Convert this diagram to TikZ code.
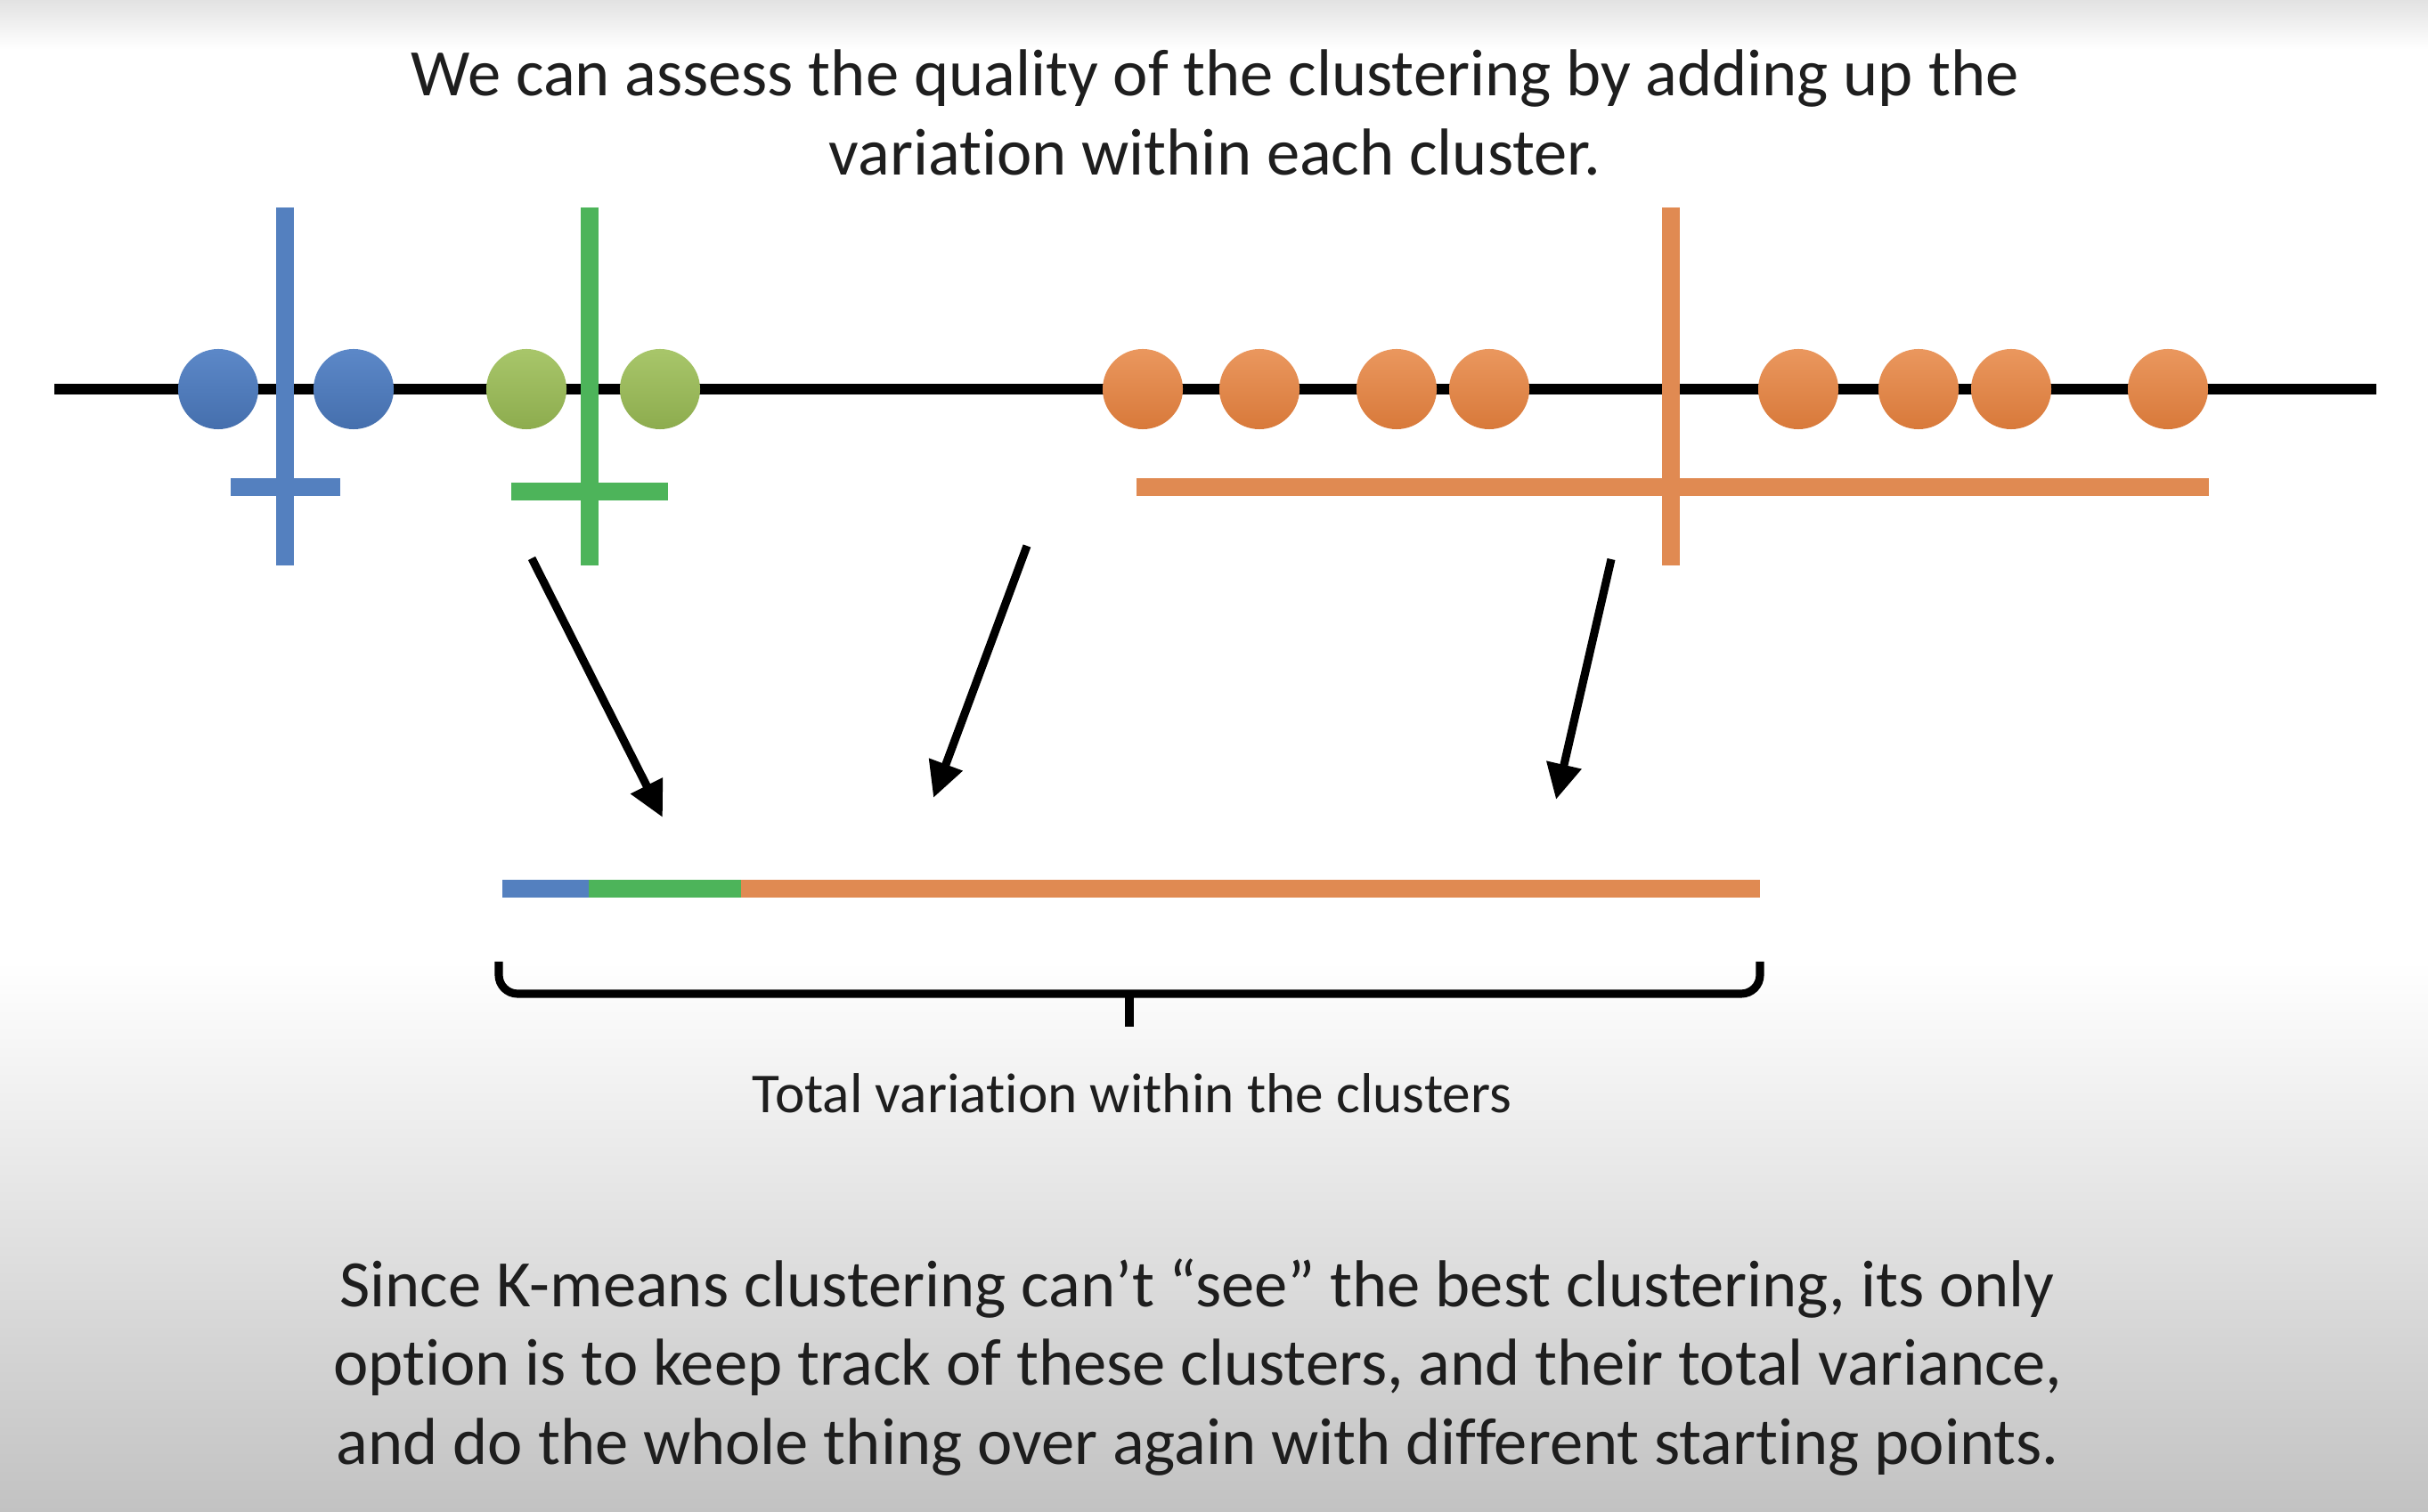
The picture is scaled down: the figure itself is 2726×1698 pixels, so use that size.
\documentclass[tikz,border=0pt]{standalone}
\usepackage{fontspec}
\setmainfont{Carlito}[Ligatures={NoCommon,NoContextual}]
\usetikzlibrary{arrows.meta}
\definecolor{cblue}{HTML}{5480BF}
\definecolor{cgreen}{HTML}{4DB45A}
\definecolor{corange}{HTML}{E08A52}
\definecolor{bluetop}{HTML}{5C88C8}
\definecolor{bluebot}{HTML}{456FAD}
\definecolor{greentop}{HTML}{A8C66A}
\definecolor{greenbot}{HTML}{8DAC4E}
\definecolor{orangetop}{HTML}{EA975E}
\definecolor{orangebot}{HTML}{D8793A}
\definecolor{txt}{HTML}{1E1E1E}
\definecolor{bgtop}{HTML}{E2E2E2}
\definecolor{bgbot}{HTML}{C2C2C2}
\tikzset{
  dot/.style={circle, minimum size=0.9cm, inner sep=0pt, draw=none},
  bluedot/.style={dot, top color=bluetop, bottom color=bluebot},
  greendot/.style={dot, top color=greentop, bottom color=greenbot},
  orangedot/.style={dot, top color=orangetop, bottom color=orangebot},
  bar/.style={line width=5.7pt},
  axisline/.style={line width=3.2pt, black},
  pointer/.style={line width=2.6pt, black, -{Triangle[length=0.4cm, width=0.38cm]}},
  bigtext/.style={anchor=base, text=txt, inner sep=0pt, font=\fontsize{21.2}{25}\selectfont},
  smalltext/.style={anchor=base, text=txt, inner sep=0pt, font=\fontsize{18}{22}\selectfont},
  bracestyle/.style={line width=2.6pt, black, rounded corners=6pt}
}
\begin{document}
\begin{tikzpicture}[x=0.01cm, y=-0.01cm]
\useasboundingbox (0,0) rectangle (2726,1698);
% background
\fill[white] (0,0) rectangle (2726,1698);
\shade[top color=bgtop, bottom color=white] (0,0) rectangle (2726,55);
\shade[top color=white, bottom color=bgbot] (0,1080) rectangle (2726,1698);

% title
\node[bigtext] (t1) at (1364,108) {We can assess the quality of the clustering by adding up the};
\node[bigtext] (t2) at (1364,197) {variation within each cluster.};

% axis
\coordinate (axL) at (61,437);
\coordinate (axR) at (2668,437);
\draw[axisline] (axL) -- (axR);

% dots
\node[bluedot] (b1) at (245,437) {};
\node[bluedot] (b2) at (397,437) {};
\node[greendot] (g1) at (591,437) {};
\node[greendot] (g2) at (741,437) {};
\foreach \x [count=\i] in {1283,1414,1568,1672,2019,2154,2258,2434}
  \node[orangedot] (o\i) at (\x,437) {};

% cluster means and spreads
\coordinate (bvT) at (320,233); \coordinate (bvB) at (320,635);
\coordinate (bhL) at (259,547); \coordinate (bhR) at (382,547);
\draw[bar, cblue] (bvT) -- (bvB);
\draw[bar, cblue] (bhL) -- (bhR);

\coordinate (gvT) at (662,233); \coordinate (gvB) at (662,635);
\coordinate (ghL) at (574,552); \coordinate (ghR) at (750,552);
\draw[bar, cgreen] (gvT) -- (gvB);
\draw[bar, cgreen] (ghL) -- (ghR);

\coordinate (ovT) at (1876,233); \coordinate (ovB) at (1876,635);
\coordinate (ohL) at (1276,547); \coordinate (ohR) at (2480,547);
\draw[bar, corange] (ohL) -- (ohR);
\draw[bar, corange] (ovT) -- (ovB);

% arrows
\coordinate (a1s) at (597,627); \coordinate (a1e) at (744,918);
\coordinate (a2s) at (1153,613); \coordinate (a2e) at (1048,896);
\coordinate (a3s) at (1809,628); \coordinate (a3e) at (1747,898);
\draw[pointer] (a1s) -- (a1e);
\draw[pointer] (a2s) -- (a2e);
\draw[pointer] (a3s) -- (a3e);

% total bar
\coordinate (s0) at (564,998); \coordinate (s1) at (661,998);
\coordinate (s2) at (832,998); \coordinate (s3) at (1976,998);
\draw[bar, cblue] (s0) -- (s1);
\draw[bar, cgreen] (s1) -- (s2);
\draw[bar, corange] (s2) -- (s3);

% brace
\coordinate (brL) at (560,1080); \coordinate (brR) at (1976,1080);
\coordinate (brM) at (1268,1116); \coordinate (brT) at (1268,1153);
\draw[bracestyle] (brL) -- (560,1116) -- (1976,1116) -- (brR);
\draw[line width=2.6pt, black] (brM) -- (brT);

\node[smalltext] (tot) at (1271,1250) {Total variation within the clusters};

% bottom text
\node[bigtext] (u1) at (1344,1468) {Since K-means clustering can’t “see” the best clustering, its only};
\node[bigtext] (u2) at (1345,1555) {option is to keep track of these clusters, and their total variance,};
\node[bigtext] (u3) at (1345,1645) {and do the whole thing over again with different starting points.};
\end{tikzpicture}
\end{document}
